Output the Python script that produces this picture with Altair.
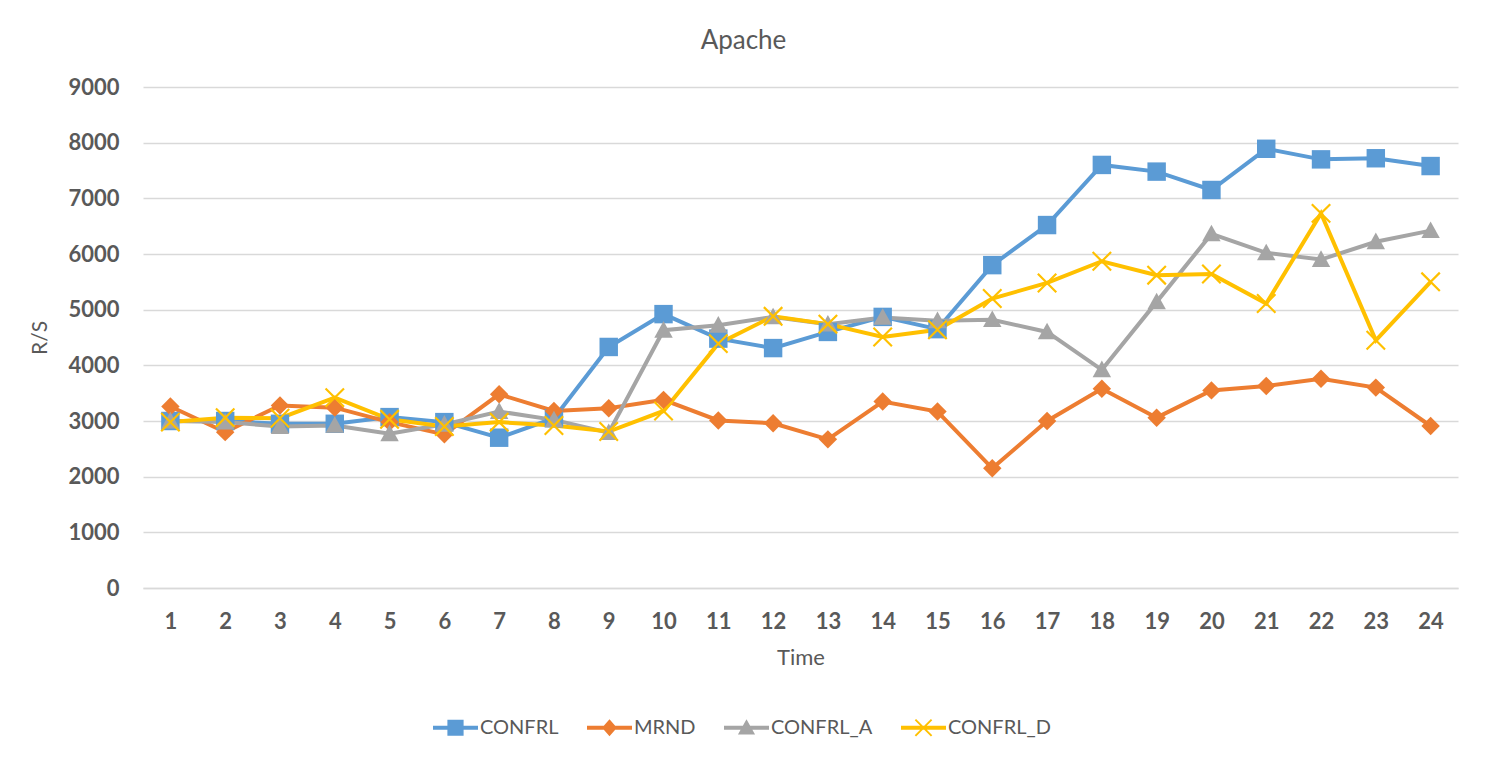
import altair as alt
import pandas as pd

times = list(range(1, 25))
series_names = ["CONFRL", "MRND", "CONFRL_A", "CONFRL_D"]
series_colors = ["#5B9BD5", "#ED7D31", "#A5A5A5", "#FFC000"]

confrl = [3000, 3000, 2950, 2950, 3070, 2980, 2700, 3050, 4330, 4920, 4480, 4310,
          4600, 4870, 4650, 5800, 6520, 7600, 7480, 7150, 7890, 7700, 7720, 7580]
mrnd = [3260, 2800, 3280, 3240, 2980, 2760, 3480, 3180, 3230, 3380, 3010, 2960,
        2670, 3350, 3170, 2150, 3000, 3580, 3060, 3550, 3630, 3760, 3600, 2910]
confrl_a = [3000, 2980, 2900, 2920, 2770, 2940, 3170, 3020, 2790, 4630, 4720, 4870,
            4740, 4860, 4800, 4820, 4600, 3920, 5140, 6360, 6020, 5900, 6220, 6420]
confrl_d = [2980, 3060, 3050, 3420, 3030, 2900, 2980, 2920, 2810, 3180, 4390, 4880,
            4740, 4510, 4640, 5200, 5480, 5870, 5620, 5640, 5110, 6730, 4450, 5500]

y_ticks = list(range(0, 9001, 1000))

rows = []
for name, vals in zip(series_names, [confrl, mrnd, confrl_a, confrl_d]):
    for t, v in zip(times, vals):
        rows.append({"Time": t, "value": v, "series": name})
df = pd.DataFrame(rows)

# marker shapes (unit paths)
chart_paths = [
    "M-1,-1H1V1H-1Z",
    "M-1,0L0,-1L1,0L0,1Z",
    "M0,-1L1,0.8L-1,0.8Z",
    "M-0.917,-1.083L1.083,0.917L0.917,1.083L-1.083,-0.917Z "
    "M1.083,-0.917L-0.917,1.083L-1.083,0.917L0.917,-1.083Z",
]
line_part = "M-1,-0.09H1V0.09H-1Z "
legend_paths = [
    line_part + "M-0.36,-0.36H0.36V0.36H-0.36Z",
    line_part + "M-0.33,0L0,-0.38L0.33,0L0,0.38Z",
    line_part + "M0,-0.38L0.38,0.3L-0.38,0.3Z",
    line_part + "M-0.33,-0.39L0.39,0.33L0.33,0.39L-0.39,-0.33Z "
    "M0.39,-0.33L-0.33,0.39L-0.39,0.33L0.33,-0.39Z",
]

FONT = "Lato"
TXT = "#595959"

x_enc = alt.X(
    "Time:O", title="Time",
    axis=alt.Axis(labelAngle=0, ticks=False, grid=False, domainColor="#D9D9D9", domainWidth=1.3,
                  labelFont=FONT, labelFontWeight="bold", labelFontSize=22, labelColor=TXT,
                  labelPadding=23, titleFont=FONT, titleFontSize=22, titleFontWeight="normal",
                  titleColor=TXT, titlePadding=15),
)
y_enc = alt.Y(
    "value:Q", title="R/S", scale=alt.Scale(domain=[0, 9000], nice=False),
    axis=alt.Axis(values=y_ticks, format="d", domain=False, ticks=False, gridColor="#D9D9D9",
                  gridWidth=1.3, labelFont=FONT, labelFontWeight="bold", labelFontSize=22,
                  labelColor=TXT, labelPadding=24, titleFont=FONT, titleFontSize=21,
                  titleFontWeight="normal", titleColor=TXT, titlePadding=17),
)
color_scale = alt.Scale(domain=series_names, range=series_colors)

legend = alt.Legend(
    title=None, orient="none", direction="horizontal", legendX=290, legendY=618,
    symbolSize=2025, symbolStrokeWidth=0, symbolOpacity=1,
    labelFont=FONT, labelFontSize=20, labelColor=TXT, labelOffset=2,
    columnPadding=28, padding=0,
)

base = alt.Chart(df)

lines = base.mark_line(strokeWidth=4).encode(
    x=x_enc, y=y_enc,
    color=alt.Color("series:N", scale=color_scale, legend=None),
)
points = base.mark_point(filled=True, size=340, opacity=1).encode(
    x=x_enc, y=y_enc,
    color=alt.Color("series:N", scale=color_scale, legend=None),
    shape=alt.Shape("series:N", scale=alt.Scale(domain=series_names, range=chart_paths), legend=None),
)
leg = base.transform_filter("false").mark_point(filled=True, opacity=1).encode(
    x=x_enc, y=y_enc,
    color=alt.Color("series:N", scale=color_scale, legend=legend),
    shape=alt.Shape("series:N", scale=alt.Scale(domain=series_names, range=legend_paths), legend=legend),
)

chart = (
    alt.layer(lines, points, leg)
    .resolve_scale(shape="independent")
    .resolve_legend(color="independent", shape="independent")
    .properties(
        width=1315, height=501,
        autosize="none",
        padding={"left": 135, "top": 79, "right": 21, "bottom": 163},
        title=alt.TitleParams("Apache", font=FONT, fontSize=26, fontWeight="normal",
                              color=TXT, offset=22, anchor="middle", dx=-57),
        background="white",
    )
    .configure_view(stroke=None)
)

chart.save("out.html", embed_options={"renderer": "svg", "actions": False})
